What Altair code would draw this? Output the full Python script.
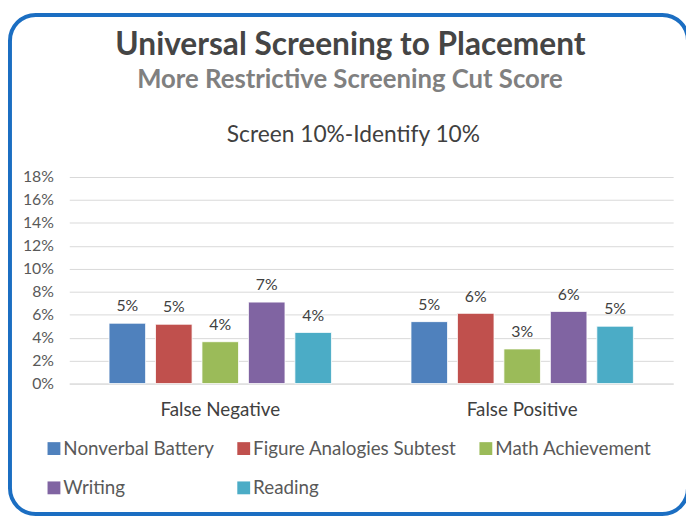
import altair as alt
import pandas as pd

groups = ["False Negative", "False Positive"]
series = ["Nonverbal Battery", "Figure Analogies Subtest", "Math Achievement", "Writing", "Reading"]
colors = ["#4F81BD", "#C0504D", "#9BBB59", "#8064A2", "#4BACC6"]
false_negative = [5.26, 5.17, 3.65, 7.10, 4.46]
false_positive = [5.40, 6.12, 3.02, 6.29, 5.00]
fn_labels = ["5%", "5%", "4%", "7%", "4%"]
fp_labels = ["5%", "6%", "3%", "6%", "5%"]
y_ticks = [0, 2, 4, 6, 8, 10, 12, 14, 16, 18]
main_title = "Universal Screening to Placement"
sub_title = "More Restrictive Screening Cut Score"
chart_title = "Screen 10%-Identify 10%"

rows = []
for g, vals, labs in [(groups[0], false_negative, fn_labels), (groups[1], false_positive, fp_labels)]:
    for s, v, l in zip(series, vals, labs):
        rows.append({"group": g, "series": s, "value": v, "label": l})
df = pd.DataFrame(rows)

FONT = "Lato"
W, H = 611, 209

x_enc = alt.X("group:N", sort=groups, title=None,
              scale=alt.Scale(paddingInner=0, paddingOuter=0),
              axis=alt.Axis(labelFont=FONT, labelFontSize=19, labelColor="#404040",
                            labelAngle=0, ticks=False, domainColor="#d9d9d9",
                            labelPadding=17))
xo_enc = alt.XOffset("series:N", sort=series,
                     scale=alt.Scale(paddingInner=0.213, paddingOuter=0.856))
y_enc = alt.Y("value:Q", title=None,
              scale=alt.Scale(domain=[0, 18], nice=False),
              axis=alt.Axis(values=y_ticks, tickCount=len(y_ticks) + 5,
                            labelExpr="datum.value + '%'",
                            labelOverlap=False,
                            labelFont=FONT, labelFontSize=16, labelColor="#595959",
                            ticks=False, domain=False, gridColor="#d9d9d9",
                            labelPadding=16))

base = alt.Chart(df)
bars = base.mark_bar(stroke="white", strokeWidth=0.8).encode(
    x=x_enc, xOffset=xo_enc, y=y_enc,
    color=alt.Color("series:N", sort=series,
                    scale=alt.Scale(domain=series, range=colors),
                    legend=alt.Legend(title=None, orient="none", legendX=-25, legendY=265,
                                      direction="horizontal", columns=3,
                                      symbolType="square", symbolSize=169,
                                      symbolStrokeWidth=0, labelFont=FONT,
                                      labelFontSize=19, labelColor="#595959",
                                      labelOffset=0, columnPadding=20,
                                      rowPadding=20, padding=0, labelLimit=400)),
)
labels = base.mark_text(baseline="bottom", dy=-9, font=FONT, fontSize=16,
                        color="#404040").encode(
    x=x_enc, xOffset=xo_enc, y=y_enc, text="label:N")

one = pd.DataFrame({"k": [0]})
border = alt.Chart(one).mark_rect(fill=None, stroke="#1B6EC2", strokeWidth=4,
                                  cornerRadius=26).encode(
    x=alt.value(-60), x2=alt.value(626), y=alt.value(-164), y2=alt.value(341))
t1 = alt.Chart(one).mark_text(text=main_title, font=FONT, fontSize=32, fontWeight="bold",
                              color="#454545", baseline="middle").encode(
    x=alt.value(284.5), y=alt.value(-133))
t2 = alt.Chart(one).mark_text(text=sub_title, font=FONT, fontSize=26, fontWeight="bold",
                              color="#808080", baseline="middle").encode(
    x=alt.value(284), y=alt.value(-98))
t3 = alt.Chart(one).mark_text(text=chart_title, font=FONT, fontSize=23,
                              color="#404040", baseline="middle").encode(
    x=alt.value(287.5), y=alt.value(-42))

chart = alt.layer(border, bars, labels, t1, t2, t3).properties(
    width=W, height=H,
    padding={"left": 62, "top": 168, "right": 13, "bottom": 136},
    autosize=alt.AutoSizeParams(type="none"),
    background="white",
).configure_view(stroke=None)

chart.save("out.html", embed_options={"renderer": "svg", "actions": False})
